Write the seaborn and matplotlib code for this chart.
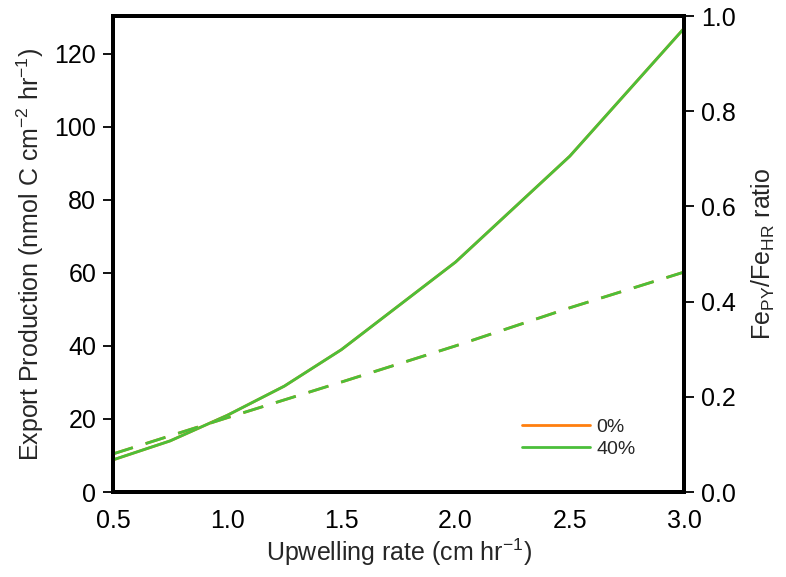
import matplotlib
matplotlib.use("Agg")
import matplotlib.pyplot as plt
import seaborn as sns
import pandas as pd

upwelling = [0.5, 0.75, 1.0, 1.25, 1.5, 2.0, 2.5, 3.0]
export_0 = [8.8, 14.0, 21.0, 29.0, 39.0, 63.0, 92.0, 127.0]
export_40 = [8.8, 14.0, 21.0, 29.0, 39.0, 63.0, 92.0, 127.0]
ratio_x = [0.5, 1.0, 1.5, 2.0, 2.5, 3.0]
ratio_0 = [0.080, 0.156, 0.231, 0.307, 0.387, 0.462]
ratio_40 = [0.080, 0.156, 0.231, 0.307, 0.387, 0.462]

sns.set_style("white")
plt.rcParams['font.family'] = ['Liberation Sans', 'DejaVu Sans']
plt.rcParams['mathtext.fontset'] = 'custom'
plt.rcParams['mathtext.rm'] = 'Liberation Sans'
plt.rcParams['mathtext.it'] = 'Liberation Sans'

orange = "#ff7f0e"
green = "#4bbf3a"
FS = 18

fig = plt.figure(figsize=(7.86, 5.77), dpi=100)
ax = fig.add_axes([113/786, 1 - 492/577, (684-113)/786, (492-16)/577])

df = pd.DataFrame({"x": upwelling * 2,
                   "y": export_0 + export_40,
                   "s": ["0%"] * len(upwelling) + ["40%"] * len(upwelling)})
sns.lineplot(data=df, x="x", y="y", hue="s", palette={"0%": orange, "40%": green},
             ax=ax, lw=2.0, legend=True)
ax.lines[0].set_zorder(2)
ax.lines[1].set_zorder(3)

ax2 = ax.twinx()
df2 = pd.DataFrame({"x": ratio_x * 2, "y": ratio_0 + ratio_40,
                    "s": ["0%"] * len(ratio_x) + ["40%"] * len(ratio_x)})
sns.lineplot(data=df2, x="x", y="y", hue="s", palette={"0%": orange, "40%": green},
             ax=ax2, lw=2.0, legend=False)
for ln in ax2.lines:
    ln.set_dashes([7.5, 4.8])

ax.set_xlim(0.5, 3.0)
ax.set_ylim(0, 130.4)
ax2.set_ylim(0, 1.0)
ax.set_xticks([0.5, 1.0, 1.5, 2.0, 2.5, 3.0])
ax.set_xticklabels(["0.5", "1.0", "1.5", "2.0", "2.5", "3.0"])
ax.set_yticks([0, 20, 40, 60, 80, 100, 120])
ax2.set_yticks([0.0, 0.2, 0.4, 0.6, 0.8, 1.0])
ax2.set_yticklabels(["0.0", "0.2", "0.4", "0.6", "0.8", "1.0"])

for a in (ax, ax2):
    for sp in a.spines.values():
        sp.set_linewidth(2.8)
        sp.set_color("black")
    a.tick_params(direction="out", length=7, width=1.3, labelsize=FS, colors="black", pad=5)

ax.set_xlabel("Upwelling rate (cm hr$^{-1}$)", fontsize=FS, labelpad=3)
ax.set_ylabel("Export Production (nmol C cm$^{-2}$ hr$^{-1}$)", fontsize=FS, labelpad=6)
ax2.set_ylabel("Fe$_{\\mathrm{PY}}$/Fe$_{\\mathrm{HR}}$ ratio", fontsize=FS, rotation=90, labelpad=10)

leg = ax.legend(loc="center left", bbox_to_anchor=(0.716, 0.113), frameon=False,
                borderaxespad=0, borderpad=0,
                fontsize=14, handlelength=3.5, handletextpad=0.35, labelspacing=0.2, title=None)

fig.savefig("out.png", dpi=100)
